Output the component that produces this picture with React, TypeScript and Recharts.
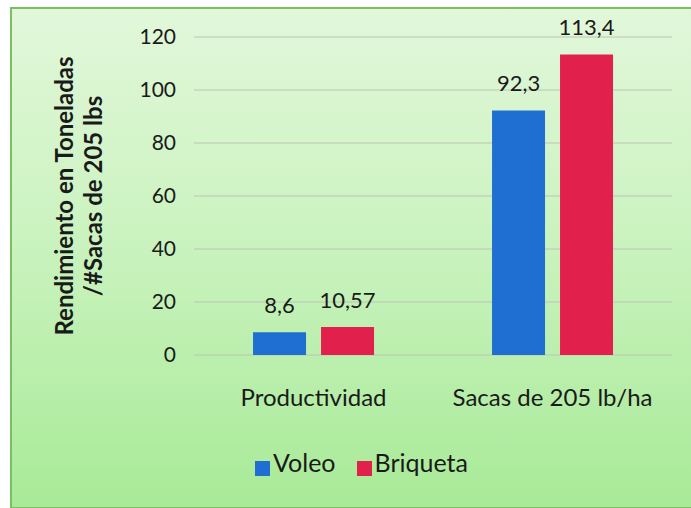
import React from 'react';
import {
  BarChart,
  Bar,
  XAxis,
  YAxis,
  CartesianGrid,
  Legend,
  LabelList,
} from 'recharts';

const categories = ['Productividad', 'Sacas de 205 lb/ha'];
const voleo = [8.6, 92.3];
const briqueta = [10.57, 113.4];
const yTicks = [0, 20, 40, 60, 80, 100, 120];
const seriesOrder = ['Voleo', 'Briqueta'];

const data = categories.map((name, i) => ({ name, voleo: voleo[i], briqueta: briqueta[i] }));

const FONT = 'Lato, "Open Sans", sans-serif';
const comma = (v: any) => String(v).replace('.', ',');

// two-line rotated y axis title
const AxisTitle = () => {
  const cy = 196;
  const common = {
    textAnchor: 'middle' as const,
    fontFamily: FONT,
    fontWeight: 700,
    fontSize: 24,
    fill: '#1a1a1a',
  };
  return (
    <g>
      <text x={73} y={cy} transform={`rotate(-90, 73, ${cy})`} {...common}>
        Rendimiento en Toneladas
      </text>
      <text x={102} y={cy} transform={`rotate(-90, 102, ${cy})`} {...common}>
        /#Sacas de 205 lbs
      </text>
    </g>
  );
};

const App = () => {
  return (
    <div style={{ position: 'absolute', left: 0, top: 0, width: 691, height: 508 }}>
      <div
        style={{
          position: 'absolute',
          left: 10,
          top: 7,
          width: 690,
          height: 498,
          border: '2px solid #7cbf62',
          background: 'linear-gradient(180deg, #e2f7da 0%, #cbf3c0 45%, #a8ea97 100%)',
        }}
      />
      <BarChart
        width={691}
        height={508}
        data={data}
        margin={{ top: 37, right: 19, left: 0, bottom: 25 }}
        barCategoryGap="24.7%"
        barGap={15}
        style={{ position: 'absolute', left: 0, top: 0 }}
      >
        <CartesianGrid vertical={false} stroke="#bcc6b4" strokeWidth={1.2} />
        <XAxis
          dataKey="name"
          axisLine={false}
          tickLine={false}
          height={92}
          tickMargin={28}
          tick={{ fill: '#1a1a1a', fontSize: 24, fontFamily: FONT }}
        />
        <YAxis
          width={194}
          domain={[0, 120]}
          ticks={yTicks}
          axisLine={false}
          tickLine={false}
          tickMargin={12}
          tick={{ fill: '#1a1a1a', fontSize: 21, fontFamily: FONT }}
          label={{ content: <AxisTitle /> }}
        />
        <Legend
          verticalAlign="bottom"
          height={36}
          iconType="square"
          iconSize={15}
          wrapperStyle={{ left: 62, width: 620 }}
          itemSorter={(item: any) => seriesOrder.indexOf(item.value)}
          formatter={(value: any) => (
            <span style={{ color: '#1a1a1a', fontSize: 25, fontFamily: FONT, marginLeft: -1, marginRight: 11 }}>
              {value}
            </span>
          )}
        />
        <Bar dataKey="voleo" name="Voleo" fill="#1f6fd2" isAnimationActive={false}>
          <LabelList
            dataKey="voleo"
            position="top"
            offset={19}
            formatter={comma}
            style={{ fill: '#1a1a1a', fontSize: 22, fontFamily: FONT }}
          />
        </Bar>
        <Bar dataKey="briqueta" name="Briqueta" fill="#e2204c" isAnimationActive={false}>
          <LabelList
            dataKey="briqueta"
            position="top"
            offset={19}
            formatter={comma}
            style={{ fill: '#1a1a1a', fontSize: 22, fontFamily: FONT }}
          />
        </Bar>
      </BarChart>
    </div>
  );
};

export default App;
